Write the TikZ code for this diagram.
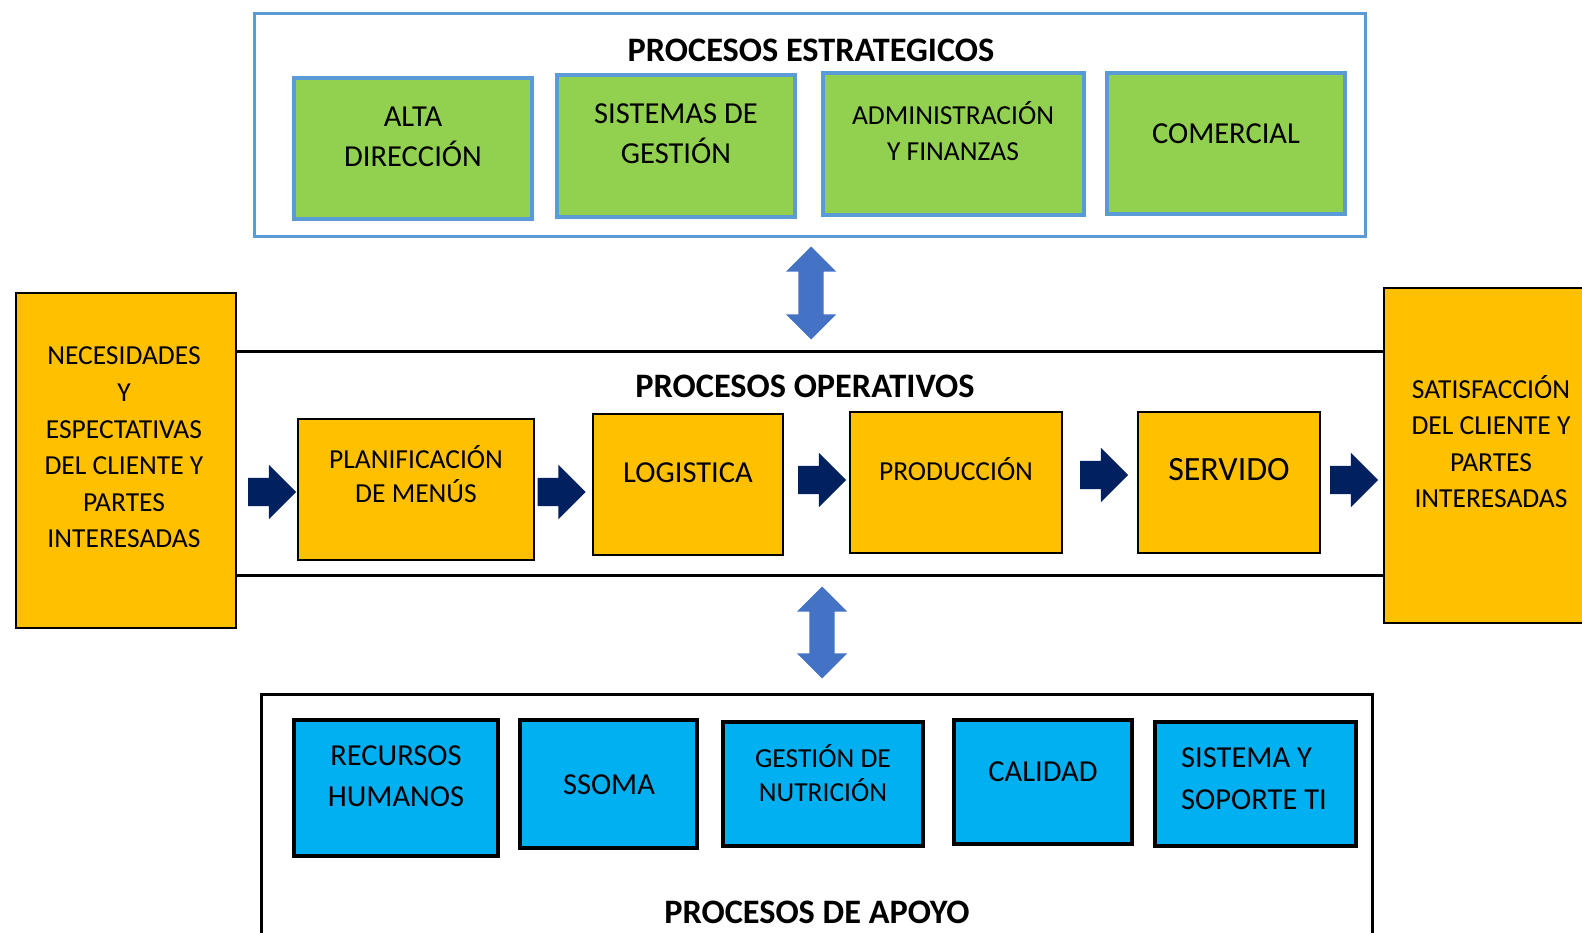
\documentclass[tikz,border=0pt]{standalone}
\usepackage{fontspec}
\setmainfont{Carlito}
\usetikzlibrary{shapes.arrows,fit}
\definecolor{gfill}{HTML}{92D050}
\definecolor{bline}{HTML}{5B9BD5}
\definecolor{ofill}{HTML}{FFC000}
\definecolor{cfill}{HTML}{00B0F0}
\definecolor{navy}{HTML}{002060}
\definecolor{ablue}{HTML}{4472C4}
\begin{document}
\begin{tikzpicture}[x=1pt,y=-1pt,
  obox/.style={draw=bline,line width=3pt,inner sep=0pt},
  kbox/.style={draw=black,line width=3pt,inner sep=0pt},
  gbox/.style={draw=bline,line width=4pt,fill=gfill,inner sep=0pt},
  pbox/.style={draw=black,line width=2pt,fill=ofill,inner sep=0pt},
  cbox/.style={draw=black,line width=3.5pt,fill=cfill,inner sep=0pt},
  band/.style={draw=black,line width=3pt},
  ttl/.style={font=\fontsize{34.3}{40}\selectfont\bfseries,inner sep=0pt},
  tl/.style={font=\fontsize{30.5}{40}\selectfont,align=center,inner sep=0pt},
  ts/.style={font=\fontsize{27.5}{36}\selectfont,align=center,inner sep=0pt},
  navyarrow/.style={single arrow,fill=navy,inner xsep=0pt,inner ysep=14pt,minimum height=48pt,single arrow head extend=13pt},
  udarrow/.style={double arrow,fill=ablue,inner xsep=0pt,inner ysep=12.5pt,rotate=90,double arrow head extend=12.5pt}
]
\useasboundingbox (0,0) rectangle (1582,933);
\clip (0,0) rectangle (1582,933);
\fill[white] (0,0) rectangle (1582,933);

% strategic processes
\node[obox,fit={(254,14) (1365,237)}] (strat) {};
\node[ttl] (stratt) at (811,50) {PROCESOS ESTRATEGICOS};
\node[gbox,fit={(294,78) (532,219)}] (alta) {};
\node[tl] (altat) at (413,137) {ALTA\\DIRECCIÓN};
\node[gbox,fit={(557,75) (795,217)}] (sist) {};
\node[tl] (sistt) at (676,134) {SISTEMAS DE\\GESTIÓN};
\node[gbox,fit={(823,73) (1084,215)}] (admin) {};
\node[ts] (admint) at (953,131) {ADMINISTRACIÓN\\Y FINANZAS};
\node[gbox,fit={(1107,73) (1345,214)}] (com) {};
\node[tl] (comt) at (1226,134) {COMERCIAL};

% side boxes
\node[pbox,fit={(16,293) (236,628)}] (nec) {};
\node[ts,font=\fontsize{27.5}{36.6}\selectfont] (nect) at (124,447.5) {NECESIDADES\\Y\\ESPECTATIVAS\\DEL CLIENTE Y\\PARTES\\INTERESADAS};
\node[pbox,fit={(1384,288) (1600,623)}] (sat) {};
\node[ts,font=\fontsize{27.5}{36.5}\selectfont] (satt) at (1491,441.5) {SATISFACCIÓN\\DEL CLIENTE Y\\PARTES\\INTERESADAS};

% operative band
\draw[band] (nec.east |- 0,351) -- (sat.west |- 0,351);
\draw[band] (nec.east |- 0,575) -- (sat.west |- 0,575);
\node[ttl] (opt) at (805,386) {PROCESOS OPERATIVOS};

\node[pbox,fit={(298,419) (534,560)}] (plan) {};
\node[ts,font=\fontsize{27.5}{34}\selectfont] (plant) at (416,474) {PLANIFICACIÓN\\DE MENÚS};
\node[pbox,fit={(593,414) (783,555)}] (log) {};
\node[tl] (logt) at (688,473) {LOGISTICA};
\node[pbox,fit={(850,412) (1062,553)}] (prod) {};
\node[ts] (prodt) at (956,469) {PRODUCCIÓN};
\node[pbox,fit={(1138,412) (1320,553)}] (serv) {};
\node[tl,font=\fontsize{34}{40}\selectfont] (servt) at (1229,470) {SERVIDO};

\node[navyarrow] (a1) at (265,492) {};
\node[navyarrow] (a2) at (554.5,492) {};
\node[navyarrow] (a3) at (815,480) {};
\node[navyarrow] (a4) at (1097,475) {};
\node[navyarrow] (a5) at (1347,480) {};

% up-down arrows
\node[udarrow,minimum height=93pt] (ud1) at (811,293) {};
\node[udarrow,minimum height=92pt] (ud2) at (822,632.5) {};

% support processes
\node[kbox,fit={(261,694) (1372,950)}] (apoyo) {};
\node[ttl] (apoyot) at (817,912) {PROCESOS DE APOYO};
\node[cbox,fit={(294,720) (498,856)}] (rh) {};
\node[tl,font=\fontsize{30.5}{41}\selectfont] (rht) at (396,776.5) {RECURSOS\\HUMANOS};
\node[cbox,fit={(520,720) (697,848)}] (ssoma) {};
\node[tl] (ssomat) at (609,785) {SSOMA};
\node[cbox,fit={(723,722) (923,846)}] (gn) {};
\node[ts,font=\fontsize{27.5}{34}\selectfont] (gnt) at (823,773) {GESTIÓN DE\\NUTRICIÓN};
\node[cbox,fit={(954,720) (1132,844)}] (cal) {};
\node[tl] (calt) at (1043,772) {CALIDAD};
\node[cbox,fit={(1155,722) (1356,846)}] (sti) {};
\node[tl,align=left,anchor=west,font=\fontsize{30.5}{42}\selectfont] (stit) at (1181,779) {SISTEMA Y\\SOPORTE TI};
\end{tikzpicture}
\end{document}
